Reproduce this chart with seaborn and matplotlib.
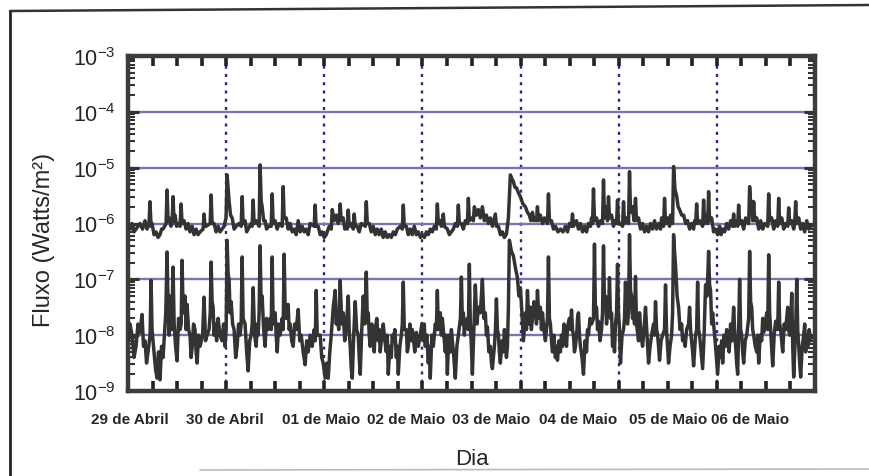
import matplotlib
matplotlib.use("Agg")
import matplotlib.pyplot as plt
import seaborn as sns
import numpy as np
import pandas as pd
from matplotlib.lines import Line2D
from matplotlib.ticker import LogLocator, MultipleLocator, NullFormatter

# ---------------- data (days since 29 Apr 00:00, log10 flux in W/m2) ----------------
upper_day = [
    0.000, 0.020, 0.041, 0.061, 0.082, 0.102, 0.122, 0.148, 0.173, 0.194,
    0.204, 0.214, 0.224, 0.235, 0.245, 0.265, 0.286, 0.306, 0.326, 0.342,
    0.357, 0.388, 0.398, 0.408, 0.418, 0.438, 0.449, 0.459, 0.469, 0.479,
    0.495, 0.510, 0.530, 0.541, 0.551, 0.571, 0.592, 0.612, 0.632, 0.653,
    0.673, 0.694, 0.714, 0.734, 0.765, 0.775, 0.785, 0.796, 0.837, 0.847,
    0.857, 0.877, 0.898, 0.918, 0.938, 0.959, 0.979, 0.999,
    1.010, 1.030, 1.045, 1.061, 1.081, 1.102, 1.132, 1.153, 1.163, 1.173,
    1.193, 1.209, 1.224, 1.240, 1.255, 1.265, 1.275, 1.285, 1.306, 1.336,
    1.346, 1.357, 1.367, 1.382, 1.397, 1.412, 1.428, 1.459, 1.469, 1.479,
    1.499, 1.520, 1.540, 1.571, 1.581, 1.591, 1.612, 1.632, 1.652, 1.673,
    1.693, 1.714, 1.734, 1.755, 1.775, 1.795, 1.816, 1.836, 1.856, 1.897,
    1.907, 1.917, 1.938, 1.958, 1.979, 1.999,
    2.020, 2.050, 2.071, 2.081, 2.101, 2.122, 2.142, 2.152, 2.162, 2.172,
    2.193, 2.209, 2.224, 2.234, 2.244, 2.254, 2.275, 2.295, 2.305, 2.315,
    2.336, 2.356, 2.377, 2.418, 2.428, 2.438, 2.458, 2.479, 2.499, 2.520,
    2.540, 2.560, 2.581, 2.601, 2.621, 2.642, 2.662, 2.683, 2.703, 2.724,
    2.744, 2.774, 2.795, 2.805, 2.815, 2.836, 2.856, 2.876, 2.897, 2.917,
    2.938, 2.958, 2.979, 2.999,
    3.020, 3.040, 3.060, 3.080, 3.101, 3.121, 3.142, 3.152, 3.162, 3.182,
    3.193, 3.213, 3.223, 3.254, 3.274, 3.295, 3.315, 3.335, 3.356, 3.366,
    3.376, 3.397, 3.417, 3.437, 3.458, 3.468, 3.478, 3.499, 3.519, 3.529,
    3.550, 3.570, 3.590, 3.611, 3.631, 3.652, 3.672, 3.692, 3.713, 3.743,
    3.754, 3.774, 3.794, 3.815, 3.835, 3.856, 3.876, 3.896, 3.912, 3.927,
    3.942, 3.958, 3.978, 3.998,
    4.024, 4.049, 4.070, 4.090, 4.105, 4.121, 4.136, 4.151, 4.162, 4.172,
    4.182, 4.202, 4.223, 4.243, 4.274, 4.284, 4.294, 4.315, 4.335, 4.355,
    4.381, 4.406, 4.432, 4.457, 4.478, 4.498, 4.519, 4.529, 4.539, 4.570,
    4.590, 4.610, 4.631, 4.651, 4.672, 4.692, 4.713, 4.723, 4.733, 4.743,
    4.753, 4.774, 4.794, 4.814, 4.835, 4.845, 4.855, 4.876, 4.886, 4.896,
    4.906, 4.927, 4.947, 4.957, 4.978, 4.988, 4.998,
    5.018, 5.039, 5.049, 5.059, 5.080, 5.100, 5.110, 5.120, 5.141, 5.156,
    5.171, 5.181, 5.202, 5.222, 5.243, 5.263, 5.284, 5.304, 5.324, 5.345,
    5.365, 5.386, 5.406, 5.426, 5.437, 5.457, 5.467, 5.477, 5.498, 5.518,
    5.528, 5.549, 5.559, 5.574, 5.590, 5.605, 5.620, 5.641, 5.661, 5.682,
    5.702, 5.722, 5.743, 5.763, 5.773, 5.784, 5.794, 5.804, 5.824, 5.855,
    5.865, 5.875, 5.896, 5.906, 5.916, 5.926, 5.947, 5.967, 5.987,
    6.008, 6.028, 6.043, 6.059, 6.079, 6.100, 6.120, 6.140, 6.161, 6.171,
    6.181, 6.202, 6.212, 6.222, 6.232, 6.253, 6.273, 6.293, 6.324, 6.334,
    6.345, 6.355, 6.365, 6.375, 6.386, 6.406, 6.426, 6.446, 6.467, 6.487,
    6.518, 6.528, 6.538, 6.559, 6.579, 6.599, 6.620, 6.630, 6.640, 6.661,
    6.681, 6.701, 6.722, 6.732, 6.742, 6.763, 6.783, 6.793, 6.803, 6.813,
    6.834, 6.854, 6.875, 6.895, 6.916, 6.936, 6.956,
]
upper_exp = [
    -6.05, -6.1, -6.0, -6.15, -6.1, -6.05, -6.0, -6.1, -5.95, -6.1,
    -6.05, -6.0, -5.61, -6.05, -6.0, -6.2, -6.15, -6.25, -6.2, -6.1,
    -6.1, -6.0, -5.40, -5.95, -5.9, -6.05, -6.0, -5.52, -5.95, -5.85,
    -6.05, -6.0, -6.05, -5.65, -6.0, -5.95, -6.1, -6.0, -6.15, -6.05,
    -6.2, -6.1, -6.2, -6.15, -6.1, -5.83, -6.05, -6.05, -6.0, -5.49,
    -6.0, -6.0, -6.15, -6.05, -6.15, -6.1, -6.05, -5.9,
    -5.13, -5.6, -5.85, -5.9, -6.1, -6.05, -6.0, -6.05, -5.52, -6.0,
    -5.95, -6.15, -6.1, -6.05, -6.0, -6.05, -5.58, -6.0, -5.95, -6.05,
    -4.95, -5.6, -5.7, -5.95, -5.95, -6.1, -6.05, -6.05, -5.47, -6.0,
    -5.95, -6.1, -6.0, -6.05, -5.34, -5.9, -5.9, -6.1, -6.0, -6.15,
    -6.1, -6.2, -5.95, -6.15, -6.05, -6.15, -6.1, -6.2, -6.0, -6.05,
    -5.67, -6.05, -6.05, -6.2, -6.15, -6.25,
    -6.2, -6.05, -6.1, -5.75, -5.95, -5.85, -6.0, -5.9, -5.65, -5.95,
    -5.9, -6.1, -6.05, -6.1, -5.76, -6.05, -6.0, -6.1, -5.83, -6.05,
    -6.05, -6.15, -6.0, -6.05, -5.61, -6.0, -6.0, -6.15, -6.05, -6.2,
    -6.1, -6.2, -6.1, -6.25, -6.15, -6.25, -6.2, -6.25, -6.15, -6.2,
    -6.1, -6.05, -6.1, -5.67, -6.05, -6.05, -6.2, -6.1, -6.2, -6.05,
    -6.2, -6.15, -6.25, -6.2,
    -6.25, -6.15, -6.2, -6.1, -6.15, -6.05, -6.1, -5.65, -6.0, -5.95,
    -6.05, -5.83, -6.05, -6.1, -6.2, -6.15, -6.1, -6.0, -6.05, -5.67,
    -6.0, -6.0, -6.1, -5.95, -6.0, -5.55, -5.95, -5.9, -5.95, -5.7,
    -5.85, -5.75, -5.9, -5.7, -5.95, -5.85, -6.0, -5.9, -6.05, -5.83,
    -6.05, -6.05, -6.2, -6.15, -6.25, -6.19, -5.9, -5.13, -5.2, -5.25,
    -5.35, -5.36, -5.45, -5.52,
    -5.65, -5.7, -5.8, -5.85, -5.95, -5.8, -5.95, -5.9, -5.95, -5.7,
    -5.95, -5.85, -6.0, -5.9, -6.0, -5.47, -5.95, -5.95, -6.1, -6.05,
    -6.15, -6.1, -6.15, -6.05, -6.15, -6.0, -6.05, -5.83, -6.05, -5.95,
    -6.1, -6.0, -6.15, -6.05, -6.15, -6.0, -6.05, -5.9, -6.0, -5.38,
    -5.95, -5.9, -6.05, -5.95, -6.0, -5.22, -5.9, -5.7, -5.95, -5.52,
    -5.9, -5.85, -6.05, -5.95, -6.0, -5.58, -6.0,
    -6.0, -6.05, -5.61, -6.0, -5.9, -6.0, -5.07, -5.8, -5.7, -5.95,
    -5.55, -5.95, -5.9, -6.1, -6.0, -6.15, -6.05, -6.15, -6.0, -6.1,
    -5.95, -6.1, -6.0, -6.1, -5.9, -6.05, -5.55, -6.0, -5.9, -6.05,
    -5.85, -6.0, -4.98, -5.4, -5.5, -5.7, -5.75, -5.85, -5.85, -6.0,
    -5.95, -6.1, -6.0, -6.1, -5.95, -6.0, -5.65, -6.0, -5.95, -6.05,
    -5.58, -6.0, -5.85, -6.0, -5.43, -5.95, -5.9, -6.15, -6.1,
    -6.2, -6.05, -6.2, -6.1, -6.15, -6.0, -6.1, -5.95, -6.05, -5.83,
    -6.05, -5.95, -6.05, -5.67, -6.0, -5.95, -6.1, -5.9, -6.0, -5.34,
    -5.7, -5.6, -5.95, -5.61, -5.95, -5.9, -6.1, -5.95, -6.1, -6.0,
    -6.05, -5.47, -5.95, -5.9, -6.1, -5.95, -6.05, -5.55, -6.0, -5.9,
    -6.1, -6.0, -6.05, -5.72, -6.0, -5.95, -6.1, -6.0, -5.61, -6.0,
    -5.9, -6.1, -6.0, -6.15, -5.95, -6.1, -6.05,
]

lower_day = [
    0.000, 0.020, 0.041, 0.061, 0.082, 0.102, 0.122, 0.143, 0.158, 0.173,
    0.189, 0.204, 0.225, 0.235, 0.245, 0.265, 0.280, 0.296, 0.311, 0.326,
    0.342, 0.357, 0.385, 0.398, 0.410, 0.420, 0.428, 0.445, 0.459, 0.470,
    0.485, 0.500, 0.515, 0.530, 0.542, 0.551, 0.562, 0.581, 0.592, 0.602,
    0.617, 0.632, 0.643, 0.653, 0.668, 0.683, 0.694, 0.704, 0.719, 0.734,
    0.760, 0.775, 0.790, 0.806, 0.826, 0.838, 0.847, 0.857, 0.867, 0.877,
    0.887, 0.903, 0.918, 0.938, 0.959, 0.974, 0.989, 1.000,
    1.010, 1.020, 1.030, 1.040, 1.051, 1.066, 1.081, 1.097, 1.112, 1.127,
    1.142, 1.153, 1.163, 1.173, 1.193, 1.209, 1.224, 1.240, 1.255, 1.265,
    1.275, 1.290, 1.306, 1.316, 1.326, 1.336, 1.346, 1.356, 1.367, 1.382,
    1.397, 1.412, 1.428, 1.448, 1.459, 1.469, 1.479, 1.499, 1.510, 1.520,
    1.535, 1.550, 1.571, 1.581, 1.591, 1.601, 1.612, 1.632, 1.642, 1.652,
    1.668, 1.683, 1.698, 1.714, 1.734, 1.750, 1.765, 1.785, 1.805, 1.821,
    1.836, 1.857, 1.877, 1.898, 1.908, 1.918, 1.928, 1.958, 1.974, 1.989,
    2.009, 2.025, 2.040, 2.056, 2.071, 2.091, 2.111, 2.122, 2.132, 2.147,
    2.162, 2.178, 2.193, 2.208, 2.224, 2.244, 2.254, 2.264, 2.275, 2.285,
    2.300, 2.315, 2.330, 2.346, 2.356, 2.366, 2.382, 2.397, 2.413, 2.428,
    2.438, 2.448, 2.458, 2.468, 2.484, 2.499, 2.509, 2.519, 2.535, 2.550,
    2.560, 2.570, 2.586, 2.601, 2.617, 2.632, 2.642, 2.652, 2.668, 2.683,
    2.693, 2.703, 2.719, 2.734, 2.744, 2.754, 2.770, 2.785, 2.795, 2.805,
    2.815, 2.836, 2.846, 2.856, 2.872, 2.887, 2.897, 2.907, 2.922, 2.938,
    2.958, 2.978, 2.994,
    3.009, 3.019, 3.029, 3.045, 3.060, 3.070, 3.080, 3.096, 3.111, 3.131,
    3.142, 3.152, 3.162, 3.182, 3.193, 3.203, 3.218, 3.233, 3.244, 3.254,
    3.269, 3.284, 3.295, 3.305, 3.320, 3.335, 3.351, 3.366, 3.387, 3.397,
    3.407, 3.417, 3.427, 3.437, 3.458, 3.468, 3.478, 3.488, 3.499, 3.509,
    3.524, 3.539, 3.555, 3.570, 3.590, 3.601, 3.611, 3.626, 3.641, 3.652,
    3.662, 3.677, 3.692, 3.703, 3.713, 3.733, 3.744, 3.754, 3.764, 3.774,
    3.784, 3.794, 3.810, 3.825, 3.835, 3.845, 3.856, 3.866, 3.876, 3.886,
    3.907, 3.927, 3.948, 3.968, 3.983, 3.998, 4.014,
    4.029, 4.050, 4.060, 4.070, 4.085, 4.100, 4.110, 4.121, 4.136, 4.151,
    4.162, 4.172, 4.187, 4.202, 4.213, 4.223, 4.238, 4.253, 4.274, 4.284,
    4.294, 4.304, 4.315, 4.325, 4.340, 4.355, 4.366, 4.376, 4.391, 4.406,
    4.417, 4.427, 4.442, 4.457, 4.468, 4.478, 4.498, 4.509, 4.519, 4.529,
    4.539, 4.549, 4.559, 4.575, 4.580, 4.590, 4.600, 4.610, 4.626, 4.641,
    4.657, 4.672, 4.682, 4.692, 4.708, 4.723, 4.743, 4.753, 4.763, 4.774,
    4.784, 4.794, 4.810, 4.825, 4.835, 4.845, 4.855, 4.865, 4.876, 4.886,
    4.896, 4.906, 4.916, 4.927, 4.937, 4.947, 4.957, 4.967, 4.978, 4.988,
    4.998,
    5.008, 5.018, 5.034, 5.049, 5.059, 5.069, 5.079, 5.090, 5.100, 5.110,
    5.120, 5.131, 5.141, 5.151, 5.161, 5.171, 5.181, 5.202, 5.212, 5.228,
    5.243, 5.258, 5.273, 5.289, 5.304, 5.320, 5.335, 5.355, 5.365, 5.375,
    5.386, 5.396, 5.406, 5.416, 5.432, 5.447, 5.467, 5.477, 5.487, 5.508,
    5.523, 5.539, 5.549, 5.559, 5.569, 5.579, 5.595, 5.610, 5.625, 5.641,
    5.651, 5.661, 5.677, 5.692, 5.712, 5.722, 5.732, 5.743, 5.753, 5.763,
    5.783, 5.794, 5.804, 5.814, 5.824, 5.840, 5.855, 5.870, 5.885, 5.900,
    5.916, 5.926, 5.936, 5.947, 5.957, 5.972, 5.987,
    6.008, 6.023, 6.038, 6.049, 6.059, 6.074, 6.089, 6.100, 6.110, 6.125,
    6.140, 6.155, 6.171, 6.181, 6.191, 6.202, 6.212, 6.222, 6.232, 6.242,
    6.253, 6.263, 6.273, 6.289, 6.304, 6.324, 6.334, 6.344, 6.355, 6.365,
    6.375, 6.391, 6.406, 6.416, 6.426, 6.442, 6.457, 6.467, 6.477, 6.493,
    6.508, 6.518, 6.528, 6.538, 6.548, 6.559, 6.569, 6.584, 6.599, 6.620,
    6.630, 6.640, 6.650, 6.661, 6.671, 6.686, 6.701, 6.712, 6.722, 6.732,
    6.742, 6.753, 6.763, 6.773, 6.783, 6.804, 6.814, 6.824, 6.834, 6.844,
    6.854, 6.870, 6.885, 6.895, 6.905, 6.916, 6.926, 6.941, 6.956,
]
lower_exp = [
    -8.1, -7.8, -8.0, -8.4, -8.2, -7.8, -7.95, -7.63, -8.2, -8.1,
    -8.5, -8.3, -8.0, -7.02, -7.9, -8.3, -8.6, -8.77, -8.3, -8.8,
    -8.2, -8.4, -7.6, -6.51, -7.6, -8.0, -7.3, -7.9, -6.78, -7.8,
    -8.2, -8.46, -7.7, -7.9, -7.8, -6.66, -7.6, -7.3, -7.9, -7.45,
    -7.9, -8.0, -8.4, -8.23, -7.8, -7.9, -8.3, -8.5, -8.0, -8.2,
    -8.0, -7.32, -8.1, -8.0, -7.9, -7.6, -6.69, -7.4, -7.5, -8.0,
    -7.8, -8.1, -7.7, -8.0, -8.1, -7.8, -8.2, -7.9,
    -6.3, -6.9, -7.0, -7.6, -7.4, -7.8, -7.9, -8.4, -8.2, -7.8,
    -8.0, -7.8, -6.6, -7.7, -7.8, -8.3, -8.64, -8.1, -8.0, -7.8,
    -7.15, -8.0, -8.2, -7.8, -8.0, -7.6, -6.4, -7.4, -7.3, -7.9,
    -8.2, -7.7, -7.9, -7.7, -7.9, -6.6, -7.8, -7.6, -8.0, -8.3,
    -7.8, -8.0, -7.7, -7.9, -6.55, -7.5, -7.7, -7.45, -7.9, -7.8,
    -8.1, -8.2, -7.8, -7.9, -7.54, -8.1, -8.0, -8.3, -8.53, -8.1,
    -8.3, -8.0, -8.2, -7.9, -8.1, -7.2, -8.0, -8.0, -8.4, -8.5,
    -8.77, -8.5, -8.77, -8.3, -8.0, -7.5, -7.2, -7.8, -7.6, -7.9,
    -7.02, -7.8, -7.6, -8.1, -7.9, -7.3, -7.9, -8.2, -8.6, -8.77,
    -8.0, -7.4, -7.9, -8.0, -8.4, -8.7, -7.9, -7.3, -7.8, -6.87,
    -7.7, -7.6, -8.0, -8.2, -7.8, -8.0, -8.3, -7.9, -7.7, -8.1,
    -7.9, -8.3, -8.0, -7.8, -8.1, -8.3, -8.0, -8.7, -8.2, -8.4,
    -8.0, -8.1, -7.9, -8.4, -8.2, -8.7, -8.2, -8.0, -7.8, -7.05,
    -7.9, -7.9, -8.3, -8.2, -7.8, -8.1, -7.9, -8.05, -8.3, -7.95,
    -8.2, -8.0, -7.8,
    -8.1, -7.8, -8.2, -8.0, -8.5, -8.2, -8.77, -8.0, -8.2, -7.8,
    -7.9, -7.2, -7.9, -7.6, -8.0, -7.7, -8.0, -8.3, -8.0, -8.7,
    -8.0, -8.3, -7.9, -8.1, -8.4, -8.77, -8.2, -8.0, -7.7, -6.96,
    -7.8, -7.6, -8.0, -7.75, -7.7, -7.9, -6.73, -7.8, -8.2, -8.7,
    -7.9, -7.1, -7.8, -7.5, -7.6, -7.3, -7.0, -7.7, -7.6, -8.0,
    -7.85, -8.3, -8.2, -8.5, -8.6, -8.2, -7.9, -7.35, -7.9, -8.0,
    -8.3, -8.5, -8.1, -8.3, -7.9, -8.1, -8.4, -8.2, -7.5, -6.3,
    -6.5, -6.58, -6.8, -6.97, -7.3, -7.15, -7.6,
    -8.1, -7.6, -7.9, -7.2, -7.8, -7.5, -7.9, -7.7, -7.4, -7.5,
    -7.8, -7.2, -7.7, -7.5, -7.9, -7.6, -7.9, -8.1, -7.7, -6.6,
    -7.7, -7.8, -8.1, -8.3, -8.0, -8.4, -8.2, -8.45, -8.1, -8.3,
    -8.0, -8.2, -7.8, -8.0, -8.2, -7.85, -7.7, -7.9, -7.55, -7.9,
    -8.0, -8.3, -8.2, -7.9, -7.7, -7.6, -8.0, -8.2, -8.4, -8.7,
    -8.1, -8.3, -7.9, -8.0, -7.7, -7.8, -7.7, -6.37, -7.6, -7.5,
    -7.9, -7.75, -8.1, -7.9, -7.6, -6.4, -7.5, -7.3, -7.8, -7.5,
    -7.6, -6.97, -7.7, -7.6, -8.2, -8.0, -8.3, -7.8, -7.6, -6.73,
    -7.6,
    -7.9, -8.5, -8.0, -7.9, -7.7, -7.05, -7.7, -7.8, -7.6, -6.2,
    -7.2, -7.3, -7.7, -7.5, -7.8, -6.95, -7.8, -8.1, -7.6, -8.0,
    -8.2, -7.9, -7.5, -8.0, -8.5, -8.2, -8.0, -7.8, -8.0, -7.4,
    -7.9, -8.0, -8.2, -8.45, -8.1, -8.0, -7.9, -7.1, -7.9, -8.5,
    -8.2, -8.0, -7.6, -6.2, -6.5, -6.75, -7.3, -7.5, -7.9, -7.8,
    -8.1, -8.0, -8.2, -7.9, -7.8, -7.5, -7.9, -8.1, -8.3, -8.55,
    -8.0, -7.9, -7.05, -7.9, -8.0, -8.3, -8.6, -8.0, -7.1, -7.3,
    -6.5, -7.1, -7.2, -7.8, -7.6, -7.9, -8.2,
    -8.7, -8.2, -8.4, -8.1, -8.5, -8.0, -8.2, -7.9, -8.0, -8.3,
    -7.8, -8.1, -7.5, -7.9, -8.2, -8.5, -8.7, -7.9, -7.0, -7.9,
    -8.0, -8.3, -8.5, -8.1, -8.0, -7.7, -6.5, -7.4, -7.5, -7.9,
    -8.0, -8.2, -8.3, -8.0, -8.5, -8.0, -8.1, -7.7, -7.95, -7.8,
    -7.6, -7.9, -6.56, -7.6, -7.9, -8.2, -8.55, -8.0, -7.75, -7.9,
    -7.05, -7.8, -7.9, -8.1, -8.3, -7.8, -7.9, -7.7, -7.5, -7.9,
    -8.0, -7.8, -7.25, -8.2, -8.75, -7.8, -7.0, -7.9, -8.2, -8.5,
    -8.75, -8.2, -8.0, -7.8, -8.3, -8.0, -8.2, -7.9, -8.1,
]

xtick_pos = [0.02, 0.99, 1.97, 2.83, 3.70, 4.59, 5.50, 6.34]
xtick_labels = ["29 de Abril", "30 de Abril", "01 de Maio", "02 de Maio",
                "03 de Maio", "04 de Maio", "05 de Maio", "06 de Maio"]

# ---------------- style ----------------
sns.set_theme(style="white")
plt.rcParams["font.family"] = ["Liberation Sans", "DejaVu Sans"]
plt.rcParams["mathtext.fontset"] = "custom"
plt.rcParams["mathtext.rm"] = "Liberation Sans"
plt.rcParams["mathtext.it"] = "Liberation Sans:italic"
plt.rcParams["mathtext.bf"] = "Liberation Sans:bold"

fig = plt.figure(figsize=(8.69, 4.77), dpi=100)
W, H = 869, 477
ax = fig.add_axes([128 / W, 1 - 392 / H, 687 / W, (392 - 57) / H])

df_up = pd.DataFrame({"dia": upper_day, "fluxo": 10 ** np.array(upper_exp)})
df_lo = pd.DataFrame({"dia": lower_day, "fluxo": 10 ** np.array(lower_exp)})
line_col = "#333333"
sns.lineplot(data=df_up, x="dia", y="fluxo", ax=ax, color=line_col, lw=2.5,
             estimator=None, sort=False, zorder=3)
sns.lineplot(data=df_lo, x="dia", y="fluxo", ax=ax, color=line_col, lw=2.5,
             estimator=None, sort=False, zorder=3)

ax.set_yscale("log")
ax.set_ylim(1e-9, 1e-3)
ax.set_xlim(0, 7)

ax.yaxis.set_major_locator(LogLocator(base=10, numticks=12))
ax.yaxis.set_minor_locator(LogLocator(base=10, subs=np.arange(2, 10), numticks=12))
ax.yaxis.set_minor_formatter(NullFormatter())
ax.xaxis.set_major_locator(MultipleLocator(1))
ax.xaxis.set_minor_locator(MultipleLocator(0.25))

ax.grid(False)
ax.grid(axis="y", which="major", color="#7676b0", lw=1.7, ls="-", zorder=1)
ax.grid(axis="x", which="major", color="#26268c", lw=1.7, ls=(0, (1.3, 2.2)), zorder=1)
ax.set_axisbelow(True)

for s in ax.spines.values():
    s.set_color("#3c3c3c")
    s.set_linewidth(3.2)

ax.tick_params(axis="x", which="both", direction="in", top=True, bottom=True,
               length=7, width=2.6, color="#222222", labelbottom=False)
ax.tick_params(axis="y", which="major", direction="in", left=True, right=True,
               length=8, width=2.2, color="#333333", labelsize=15.5, pad=9)
ax.tick_params(axis="y", which="minor", direction="in", left=True, right=True,
               length=5, width=1.5, color="#333333")

ax.set_xlabel("")
ax.set_ylabel("Fluxo (Watts/m²)", fontsize=17)
ax.yaxis.set_label_coords(-0.106, 0.455)

sec = ax.secondary_xaxis("bottom")
sec.set_xticks(xtick_pos, labels=xtick_labels)
sec.tick_params(length=0, pad=15, labelsize=11)
for lab in sec.get_xticklabels():
    lab.set_fontweight("bold")
sec.spines["bottom"].set_visible(False)
sec.set_xlabel("Dia", fontsize=16, labelpad=16)

# scanned page frame
fig.add_artist(Line2D([10 / W, 10 / W], [1 - 12 / H, 0], transform=fig.transFigure,
                      color="#222222", lw=2))
fig.add_artist(Line2D([10 / W, 1], [1 - 12 / H, 1 - 6 / H], transform=fig.transFigure,
                      color="#333333", lw=1.8))
fig.add_artist(Line2D([200 / W, 1], [1 - 471 / H, 1 - 470 / H], transform=fig.transFigure,
                      color="#bbbbbb", lw=1.2))

fig.savefig("out.png", dpi=100, facecolor="white")
